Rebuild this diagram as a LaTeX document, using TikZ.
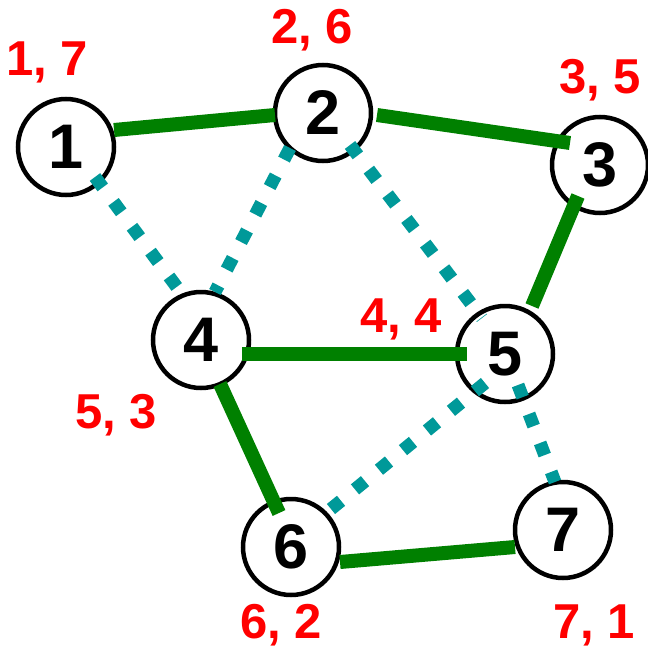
\documentclass[tikz,border=0pt]{standalone}
\usepackage{fontspec}
\setmainfont{Liberation Sans}
\usetikzlibrary{calc}
\definecolor{treegreen}{RGB}{0,128,0}
\definecolor{backteal}{RGB}{0,153,153}
\tikzset{vert/.style={draw,circle,line width=4.5pt,minimum size=96pt,inner sep=0pt,fill=white,font=\fontsize{63}{63}\selectfont\bfseries},
  treeedge/.style={treegreen,line width=14pt},
  backedge/.style={backteal,line width=13pt,dash pattern=on 13pt off 18pt},
  lbl/.style={red,anchor=base,inner sep=0pt,font=\fontsize{49}{49}\selectfont\bfseries}}

\begin{document}
\begin{tikzpicture}[x=1pt,y=-1pt]
\useasboundingbox (0,0) rectangle (648,648);
\node[vert] (v1) at (66,147) {1};
\node[vert] (v2) at (323,113) {2};
\node[vert] (v3) at (600,165) {3};
\node[vert] (v4) at (201,340) {4};
\node[vert] (v5) at (505,354) {5};
\node[vert] (v6) at (291,547) {6};
\node[vert] (v7) at (563,530) {7};
\node[lbl] (t1) at (47,75) {1, 7};
\node[lbl] (t2) at (312,43) {2, 6};
\node[lbl] (t3) at (600,93) {3, 5};
\node[lbl] (t4) at (401,332) {4, 4};
\node[lbl] (t5) at (116,428) {5, 3};
\node[lbl] (t6) at (281,638) {6, 2};
\node[lbl] (t7) at (594,638) {7, 1};
\draw[treeedge] ($(v1.center)+(48,-17)$) -- ($(v2.center)+(-48,2)$);
\draw[treeedge] ($(v2.center)+(54,2)$) -- ($(v3.center)+(-30,-22)$);
\draw[treeedge] ($(v3.center)+(-22,31)$) -- ($(v5.center)+(27,-48)$);
\draw[treeedge] ($(v4.center)+(41,14)$) -- ($(v5.center)+(-38,0)$);
\draw[treeedge] ($(v4.center)+(19,44)$) -- ($(v6.center)+(-12,-34)$);
\draw[treeedge] ($(v6.center)+(49,15)$) -- ($(v7.center)+(-48,17)$);
\draw[backedge] ($(v1.center)+(29,30)$) -- ($(v4.center)+(-19,-46)$);
\draw[backedge] ($(v2.center)+(-33,35)$) -- ($(v4.center)+(14,-48)$);
\draw[backedge] ($(v2.center)+(27,32)$) -- ($(v5.center)+(-23,-36)$);
\draw[backedge] ($(v5.center)+(-20,29)$) -- ($(v6.center)+(29,-29)$);
\draw[backedge] ($(v5.center)+(13,31)$) -- ($(v7.center)+(-8,-48)$);
\end{tikzpicture}
\end{document}
